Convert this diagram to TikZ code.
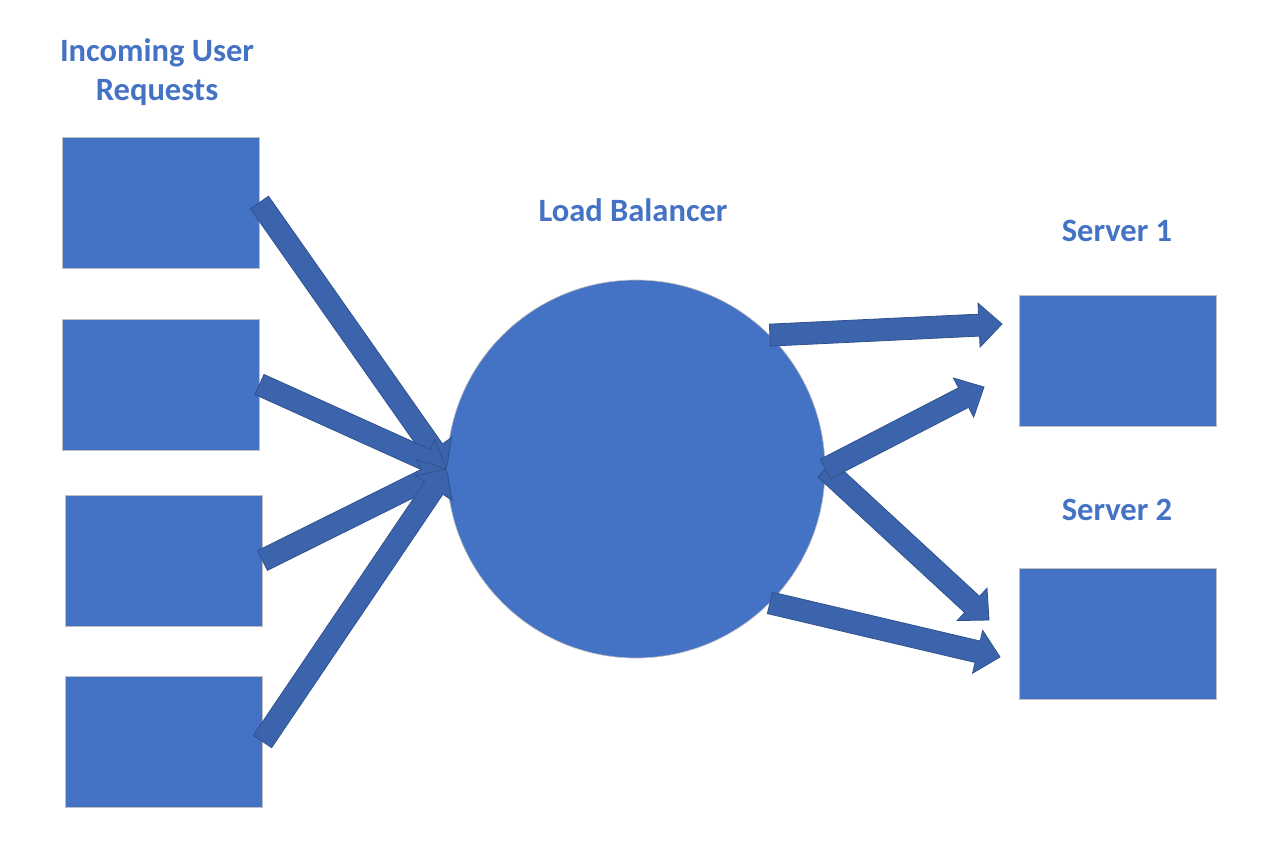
\documentclass[tikz,border=0pt]{standalone}
\usepackage{fontspec}
\setmainfont{Carlito}
\usetikzlibrary{calc}
\definecolor{boxblue}{HTML}{4472C4}
\definecolor{arrblue}{HTML}{3C64AC}
\definecolor{arredge}{HTML}{2F528F}
\definecolor{edgegray}{HTML}{BFBFBF}
\tikzset{
  boxnode/.style={draw=edgegray, line width=0.75pt, fill=boxblue, inner sep=0pt, minimum width=147.75pt, minimum height=98.25pt},
  lbnode/.style={draw=edgegray, line width=0.5pt, fill=boxblue, circle, inner sep=0pt, minimum size=283.5pt},
  label/.style={text=boxblue, font=\bfseries\fontsize{24.4}{29.25}\selectfont, align=center, anchor=base, inner sep=0pt},
  blockarr/.style={fill=arrblue, draw=arredge, line width=0.6pt, line join=miter}
}
\newcommand\blockarrow[2]{%
  \coordinate (ba-h) at ($(#2)!17.25pt!(#1)$);
  \filldraw[blockarr] ($(#1)!8.25pt!90:(#2)$) -- ($(ba-h)!8.25pt!90:(#2)$) -- ($(ba-h)!16.5pt!90:(#2)$) -- (#2) -- ($(ba-h)!16.5pt!-90:(#2)$) -- ($(ba-h)!8.25pt!-90:(#2)$) -- ($(#1)!8.25pt!-90:(#2)$) -- cycle;}
\begin{document}
\begin{tikzpicture}[x=0.75pt, y=-0.75pt]
\useasboundingbox[fill=white] (0,0) rectangle (1286,844);
% titles
\node[label] (tin) at (157,100) {Incoming User\\Requests};
\node[label] (tlb) at (633,221) {Load Balancer};
\node[label] (ts1) at (1117,241) {Server 1};
\node[label] (ts2) at (1117,520) {Server 2};
% request boxes
\node[boxnode] (b1) at (160.5,202.5) {};
\node[boxnode] (b2) at (160.5,384.5) {};
\node[boxnode] (b3) at (163.5,560.5) {};
\node[boxnode] (b4) at (163.5,741.5) {};
% servers
\node[boxnode] (s1) at (1117.5,360.5) {};
\node[boxnode] (s2) at (1117.5,634) {};
% load balancer
\node[lbnode] (lb) at (636,469) {};
% arrow tips near servers
\coordinate (t1a) at (1002,324);
\coordinate (t1b) at (984,387);
\coordinate (t2a) at (989,620);
\coordinate (t2b) at (1000,657);
% arrows
\blockarrow{b1.east}{lb.west}
\blockarrow{b2.east}{lb.west}
\blockarrow{b3.east}{lb.west}
\blockarrow{b4.east}{lb.west}
\blockarrow{lb.45}{t1a}
\blockarrow{lb.east}{t2a}
\blockarrow{lb.east}{t1b}
\blockarrow{lb.-45}{t2b}
\end{tikzpicture}
\end{document}
